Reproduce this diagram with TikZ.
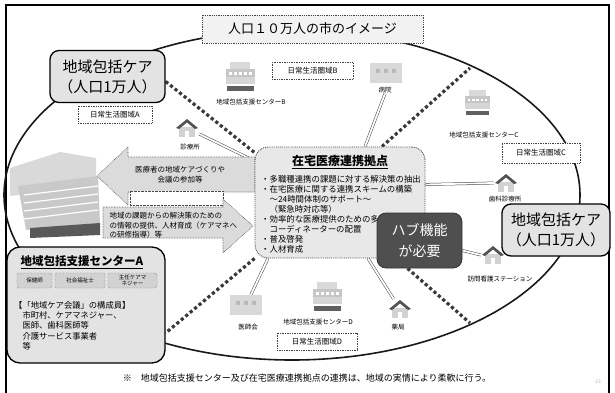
\documentclass[tikz,border=0pt]{standalone}
\usepackage{fontspec}
\setmainfont{Noto Sans CJK JP}
\usetikzlibrary{positioning,backgrounds}
\newcommand{\fsize}[1]{\fontsize{#1}{#1}\selectfont}
\tikzset
{
    titlebox/.style   = {draw=gray!55!black, densely dotted, line width=0.8pt, fill=gray!10, minimum width=221pt, minimum height=28pt, font=\fsize{13}},
    carebox/.style    = {draw=black, line width=1.3pt, rounded corners=9pt, fill=gray!22, align=center, inner sep=0pt, minimum width=#1, minimum height=52pt, font=\fontsize{15}{20}\selectfont},
    hubbox/.style     = {draw=black!80, line width=0.8pt, rounded corners=9pt, fill=gray!62!black, text=white, align=center, minimum width=85pt, minimum height=55pt, font=\fontsize{14}{21}\selectfont},
    basebox/.style    = {draw=gray!55!black, densely dotted, line width=0.9pt, rounded corners=13pt, fill=gray!18, minimum width=170pt, minimum height=111pt},
    centerbox/.style  = {draw=black, line width=1.3pt, rounded corners=13pt, fill=gray!22, minimum width=158pt, minimum height=116pt},
    areabox/.style    = {draw=gray!50!black, densely dotted, line width=0.7pt, fill=white, inner sep=0pt, minimum height=17pt, font=\fsize{7.5}},
    stafftag/.style   = {draw=gray!50!black, densely dotted, rounded corners=2pt, fill=gray!35, align=center, inner sep=0pt, minimum height=15pt, font=\fontsize{5.5}{6}\selectfont},
    facility/.style   = {inner sep=0.5pt, font=\fsize{6.5}},
    iconspot/.style   = {inner sep=0pt, minimum width=24pt, minimum height=20pt},
    linkline/.style   = {draw=gray!55!black, line width=0.5pt, double=white, double distance=1.8pt},
    borderline/.style = {draw=gray!45!black, line width=3.2pt, dash pattern=on 3.2pt off 2.6pt},
    blockarrow/.style = {draw=gray!55!black, densely dotted, line width=0.6pt, fill=gray!28},
    homeicon/.pic = {
        \fill[gray!35] (-8,-1) rectangle (8,9);
        \fill[gray!65!black] (-11,0) -- (0,-9) -- (11,0) -- (8,1) -- (0,-5.5) -- (-8,1) -- cycle;
        \fill[white] (-2,3) rectangle (2,9);
    },
    officeicon/.pic = {
        \fill[gray!30] (-11,-16) rectangle (9,-9);
        \fill[gray!45] (-15,-9) rectangle (14,-1);
        \fill[gray!32] (-15,-1) rectangle (14,6);
        \fill[gray!75!black] (-14,8) rectangle (13,13);
        \foreach \wx in {-12,-7,...,10}
            \fill[white] (\wx,-6) rectangle ++(3,3);
    },
    boxicon/.pic = {
        \fill[gray!30] (-16,-10) rectangle (16,10);
        \foreach \wx in {-10,-2,6}
            \fill[gray!55] (\wx,-4) rectangle ++(4,4);
    }
}

\begin{document}
\begin{tikzpicture}[x=1pt, y=-1pt]
\useasboundingbox (0,0) rectangle (615,393);

% big hospital building
\fill[gray!30] (10,168) -- (60,152) -- (96,158) -- (96,185) -- (10,196) -- cycle;
\fill[gray!42] (18,186) -- (98,176) -- (100,224) -- (26,230) -- cycle;
\foreach \k in {0,1,2,3}
    \draw[white, line width=1.2pt] (24,{195+8*\k}) -- (98,{186+8*\k});
\fill[gray!70!black] (30,228) -- (100,223) -- (100,235) -- (30,238) -- cycle;

% block arrows
\draw[blockarrow] (255,157) -- (128,157) -- (128,147) -- (97,176) -- (128,205) -- (128,192) -- (255,192) -- cycle;
\draw[gray!55!black, densely dotted, fill=white] (130,191) rectangle (223,205);
\draw[blockarrow] (103,207) -- (223,207) -- (223,199) -- (253,226) -- (223,253) -- (223,238) -- (103,238) -- cycle;
\node[align=center, font=\fontsize{7.5}{10}\selectfont] (toArea) at (180,175) {医療者の地域ケアづくりや\\会議の参加等};
\node[align=left, anchor=north west, font=\fontsize{7.5}{9.5}\selectfont] (toBase) at (106,209) {地域の課題からの解決策のための\\の情報の提供、人材育成（ケアマネへ\\の研修指導）等};

% boxes
\node[titlebox] (cityTitle) at (312.5,29) {人口１０万人の市のイメージ};
\node[basebox] (base) at (340,202.5) {};
\node[font=\bfseries\fsize{12}] (baseTitle) at (340,162) {\underline{在宅医療連携拠点}};
\node[anchor=north west, align=left, inner sep=0pt, font=\fontsize{8.4}{10}\selectfont] (baseList) at (261,175) {・多職種連携の課題に対する解決策の抽出\\・在宅医療に関する連携スキームの構築\\　～24時間体制のサポート～\\　（緊急時対応等）\\・効率的な医療提供のための多職種連携\\　コーディネーターの配置\\・普及啓発\\・人材育成};
\node[hubbox] (hub) at (419.5,240.5) {ハブ機能\\が必要};

\node[centerbox] (centerA) at (86,305) {};
\node[anchor=west, font=\bfseries\fsize{11.5}] (centerTitle) at (17,262) {\underline{地域包括支援センターA}};
\node[stafftag, minimum width=35pt] (nurseTag) at (34.5,280.5) {保健師};
\node[stafftag, minimum width=50pt] (socialTag) at (80,280.5) {社会福祉士};
\node[stafftag, minimum width=49pt] (managerTag) at (132.5,280.5) {主任ケアマ\\ネジャー};
\node[anchor=north west, align=left, inner sep=0pt, font=\fontsize{8.3}{10.3}\selectfont] (members) at (14,301) {【「地域ケア会議」の構成員】\\　市町村、ケアマネジャー、\\　医師、歯科医師等\\　介護サービス事業者\\　等};

\node[carebox=115pt] (careL) at (107.5,76.5) {地域包括ケア\\（人口1万人）};
\node[carebox=108pt] (careR) at (556,230) {地域包括ケア\\（人口1万人）};

\node[areabox, minimum width=74pt] (areaA) at (115,114.5) {日常生活圏域A};
\node[areabox, minimum width=81pt] (areaB) at (312.5,71) {日常生活圏域B};
\node[areabox, minimum width=78pt, minimum height=20pt] (areaC) at (541,153) {日常生活圏域C};
\node[areabox, minimum width=80pt] (areaD) at (317,341.5) {日常生活圏域D};

% facilities
\pic at (241,78) {officeicon};
\node[iconspot] (supportBicon) at (241,78) {};
\node[facility] (supportB) at (251,102) {地域包括支援センターB};
\pic at (386,73) {boxicon};
\node[iconspot] (hospitalicon) at (386,73) {};
\node[facility] (hospital) at (385,90) {病院};
\pic[scale=0.85] at (478,104) {officeicon};
\node[iconspot] (supportCicon) at (478,104) {};
\node[facility] (supportC) at (484,135) {地域包括支援センターC};
\pic at (187,128) {homeicon};
\node[iconspot] (clinicicon) at (187,128) {};
\node[facility] (clinic) at (190,147) {診療所};
\pic at (506,183) {homeicon};
\node[iconspot] (dentalicon) at (506,183) {};
\node[facility] (dental) at (505,199) {歯科診療所};
\pic at (493,255) {homeicon};
\node[iconspot] (visiticon) at (493,255) {};
\node[facility] (visit) at (500,279) {訪問看護ステーション};
\pic at (400,309) {homeicon};
\node[iconspot] (pharmacyicon) at (400,309) {};
\node[facility] (pharmacy) at (398,327) {薬局};
\pic at (328,298) {officeicon};
\node[iconspot] (supportDicon) at (328,298) {};
\node[facility] (supportD) at (318,322) {地域包括支援センターD};
\pic at (246,305) {boxicon};
\node[iconspot] (doctorsicon) at (246,305) {};
\node[facility] (doctors) at (248,327) {医師会};

\node[font=\fsize{9}] (note) at (307,378) {※　地域包括支援センター及び在宅医療連携拠点の連携は、地域の実情により柔軟に行う。};
\node[font=\fsize{5}, text=gray!60] (page) at (598,382) {33};

\coordinate (neEnd) at (470,68);
\coordinate (seEnd) at (470,323);

\begin{scope}[on background layer]
\draw[line width=1.3pt] (6,393) -- (6,5) -- (609,5) -- (609,393);
\draw[line width=1.6pt, gray!20!black] (292,195) ellipse [x radius=288pt, y radius=165pt];
\draw[borderline] ([yshift=-5pt]careL.east) -- ([yshift=-6pt]base.north west);
\draw[borderline] ([xshift=42pt]base.north) -- (neEnd);
\draw[borderline] ([xshift=-12pt]hub.south) -- (seEnd);
\draw[borderline] (base.south west) -- ([yshift=-28pt]centerA.east);
\draw[linkline] (base) -- (clinicicon);
\draw[linkline] ([xshift=25pt]base.north) -- (hospital.south);
\draw[linkline] ([yshift=18pt]base.east) -- (dentalicon.west);
\draw[linkline] ([yshift=-10pt]hub.east) -- (visiticon.west);
\draw[linkline] ([xshift=28pt]base.south) -- (pharmacyicon);
\draw[linkline] ([xshift=-72pt]base.south) -- (doctorsicon);
\end{scope}
\end{tikzpicture}
\end{document}
